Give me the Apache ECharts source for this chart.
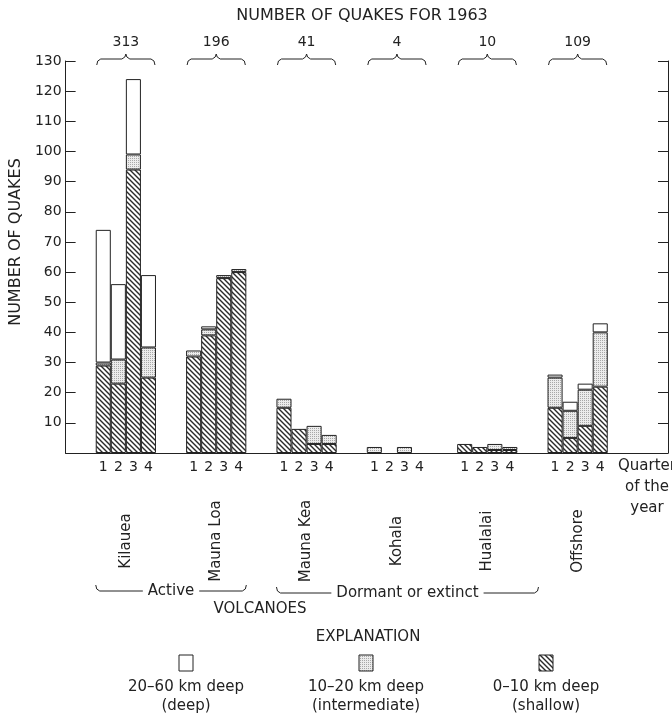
<!DOCTYPE html>
<html>
<head>
<meta charset="utf-8">
<script src="https://cdn.jsdelivr.net/npm/echarts@6/dist/echarts.min.js"></script>
<style>
  html, body { margin: 0; background: #fff; }
  #chart { width: 672px; height: 717px; }
</style>
</head>
<body>
<div id="chart"></div>
<script>
// quakes per quarter of 1963, by volcano and depth
const volcanoes = ['Kilauea', 'Mauna Loa', 'Mauna Kea', 'Kohala', 'Hualalai', 'Offshore']
const quarters = ['1', '2', '3', '4']
const shallow = [[29, 23, 94, 25], [32, 39, 58, 60], [15, 8, 3, 3], [0, 0, 0, 0], [3, 2, 1, 1], [15, 5, 9, 22]]
const intermediate = [[1, 8, 5, 10], [2, 2, 1, 1], [3, 0, 6, 3], [2, 0, 2, 0], [0, 0, 2, 1], [10, 9, 12, 18]]
const deep = [[44, 25, 25, 24], [0, 1, 0, 0], [0, 0, 0, 0], [0, 0, 0, 0], [0, 0, 0, 0], [1, 3, 2, 3]]
const depthNames = ['20–60 km deep\n(deep)', '10–20 km deep\n(intermediate)', '0–10 km deep\n(shallow)']

const FONT = 'DejaVu Sans'
const INK = '#222'
const LEAD = 2    // empty slots before first group
const GROUP = 6   // slots per volcano (4 bars + gap)
const SLOTS = 40

const totals = volcanoes.map((v, g) =>
  quarters.reduce((s, q, j) => s + shallow[g][j] + intermediate[g][j] + deep[g][j], 0))

const categories = new Array(SLOTS).fill('')
volcanoes.forEach((v, g) => quarters.forEach((q, j) => { categories[LEAD + g * GROUP + j] = q }))

const spread = (rows) => {
  const out = new Array(SLOTS).fill('-')
  rows.forEach((row, g) => row.forEach((val, j) => { out[LEAD + g * GROUP + j] = val === 0 ? '-' : val }))
  return out
}

const makeHatch = () => {
  const s = 5
  const c = document.createElement('canvas')
  c.width = s; c.height = s
  const ctx = c.getContext('2d')
  ctx.fillStyle = '#fff'
  ctx.fillRect(0, 0, s, s)
  ctx.strokeStyle = '#2a2a2a'
  ctx.lineWidth = 1.4
  ctx.beginPath()
  ctx.moveTo(-1, -1); ctx.lineTo(s + 1, s + 1)
  ctx.moveTo(-1, s - 1); ctx.lineTo(1, s + 1)
  ctx.moveTo(s - 1, -1); ctx.lineTo(s + 1, 1)
  ctx.stroke()
  return { image: c, repeat: 'repeat' }
}

const makeStipple = () => {
  const c = document.createElement('canvas')
  c.width = 2; c.height = 2
  const ctx = c.getContext('2d')
  ctx.fillStyle = '#ececec'
  ctx.fillRect(0, 0, 2, 2)
  ctx.fillStyle = '#a8a8a8'
  ctx.fillRect(0, 0, 1, 1)
  return { image: c, repeat: 'repeat' }
}

const hatchFill = makeHatch()
const stippleFill = makeStipple()
const fills = ['#ffffff', stippleFill, hatchFill]

const chart = echarts.init(document.getElementById('chart'))

const barStyle = (color) => ({ color, borderColor: INK, borderWidth: 1 })
const hiddenValueAxis = (position, label) => ({
  type: 'value',
  position,
  min: 0,
  max: SLOTS,
  interval: 2,
  axisLine: { show: false },
  axisTick: { show: false },
  splitLine: { show: false },
  axisLabel: label
})
const groupOf = (v) => {
  const g = (v - LEAD - 2) / GROUP
  return Number.isInteger(g) && g >= 0 && g < volcanoes.length ? g : -1
}
const quakeAxis = (position, label) => ({
  type: 'value',
  position,
  min: 0,
  max: 130,
  interval: 10,
  axisLine: { show: true, onZero: false, lineStyle: { color: INK, width: 1 } },
  axisTick: { show: true, inside: true, length: 10, lineStyle: { color: INK } },
  splitLine: { show: false },
  axisLabel: label
})

const option = {
  animation: false,
  textStyle: { fontFamily: FONT, color: INK },
  grid: { left: 61, right: 4, top: 61, bottom: 264 },
  xAxis: [
    {
      type: 'category',
      data: categories,
      position: 'bottom',
      axisLine: { onZero: false, lineStyle: { color: INK, width: 1 } },
      axisTick: { show: false },
      axisLabel: { interval: 0, margin: 7, fontSize: 14, color: INK, fontFamily: FONT }
    },
    hiddenValueAxis('top', {
      margin: 12, fontSize: 14, color: INK, fontFamily: FONT,
      formatter: (v) => groupOf(v) >= 0 ? String(totals[groupOf(v)]) : ''
    }),
    hiddenValueAxis('bottom', {
      margin: 88, rotate: 90, align: 'center', verticalAlign: 'middle',
      fontSize: 15, color: INK, fontFamily: FONT,
      formatter: (v) => groupOf(v) >= 0 ? volcanoes[groupOf(v)] : ''
    })
  ],
  yAxis: [
    Object.assign(quakeAxis('left', {
      margin: 4, fontSize: 14, color: INK, fontFamily: FONT, formatter: (v) => v === 0 ? '' : v
    }), {
      name: 'NUMBER OF QUAKES',
      nameLocation: 'middle',
      nameRotate: 90,
      nameGap: 34,
      nameTextStyle: { fontSize: 16, color: INK, fontFamily: FONT, padding: [0, 0, 0, 30] }
    }),
    quakeAxis('right', { show: false })
  ],
  series: [
    { name: 'shallow', type: 'bar', stack: 'q', barWidth: '100%', data: spread(shallow), itemStyle: barStyle(hatchFill) },
    { name: 'intermediate', type: 'bar', stack: 'q', barWidth: '100%', data: spread(intermediate), itemStyle: barStyle(stippleFill) },
    { name: 'deep', type: 'bar', stack: 'q', barWidth: '100%', data: spread(deep), itemStyle: barStyle('#fff') }
  ]
}

chart.setOption(option)

// annotations placed from the slot scale
const px = (v) => chart.convertToPixel({ xAxisIndex: 1 }, v)
const measure = (text, size) => {
  const ctx = document.createElement('canvas').getContext('2d')
  ctx.font = size + 'px "' + FONT + '"'
  return ctx.measureText(text).width
}
const line = (points) => ({ type: 'polyline', shape: { points }, style: { stroke: INK, lineWidth: 1, fill: null } })
const text = (t, x, y, size, extra) => ({
  type: 'text', x, y,
  style: Object.assign({ text: t, fill: INK, font: size + 'px "' + FONT + '"', align: 'center', verticalAlign: 'middle' }, extra || {})
})

const graphics = []

graphics.push(text('NUMBER OF QUAKES FOR 1963', 362, 16, 16))

// curly braces over each volcano
volcanoes.forEach((v, g) => {
  const x0 = px(LEAD + g * GROUP) + 1
  const x1 = px(LEAD + g * GROUP + 4) - 1
  const xc = (x0 + x1) / 2
  const yl = 59, ye = 65, yp = 54
  graphics.push(line([[x0, ye], [x0 + 1, yl + 2], [x0 + 4, yl], [xc - 4, yl], [xc - 1, yl - 2], [xc, yp], [xc + 1, yl - 2], [xc + 4, yl], [x1 - 4, yl], [x1 - 1, yl + 2], [x1, ye]]))
})

// group brackets under the names
const bracket = (label, a, b, y) => {
  const x0 = px(a), x1 = px(b)
  const xc = (x0 + x1) / 2
  const half = measure(label, 15) / 2 + 5
  graphics.push(line([[x0, y - 6], [x0 + 1, y - 2], [x0 + 4, y], [xc - half, y]]))
  graphics.push(line([[xc + half, y], [x1 - 4, y], [x1 - 1, y - 2], [x1, y - 6]]))
  graphics.push(text(label, xc, y, 15))
}
bracket('Active', LEAD, LEAD + GROUP + 4, 591)
bracket('Dormant or extinct', LEAD + 2 * GROUP, LEAD + 4 * GROUP + 5.4, 593)

graphics.push(text('VOLCANOES', 260, 609, 15))
graphics.push(text('Quarter\nof the\nyear', 647, 487, 15, { lineHeight: 21 }))
graphics.push(text('EXPLANATION', 368, 637, 15))

// explanation boxes
const legendX = [186, 366, 546]
depthNames.forEach((name, i) => {
  graphics.push({
    type: 'rect',
    shape: { x: legendX[i] - 7, y: 655, width: 14, height: 16 },
    style: { fill: fills[i], stroke: INK, lineWidth: 1 }
  })
  graphics.push(text(name, legendX[i], 697, 15, { lineHeight: 19 }))
})

chart.setOption({ graphic: graphics })
</script>
</body>
</html>
